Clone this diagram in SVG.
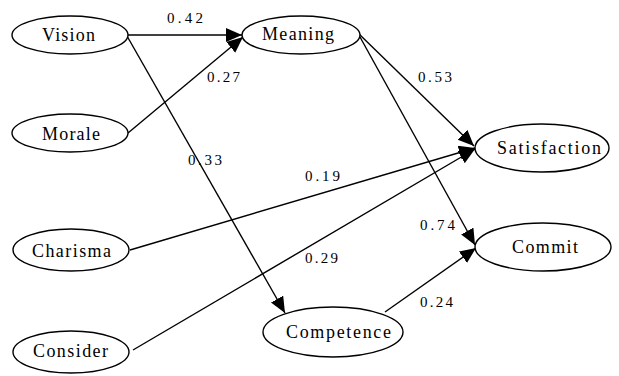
<svg xmlns="http://www.w3.org/2000/svg" width="619" height="376" viewBox="0 0 619 376">
<defs>
<style>
.n ellipse{fill:#fff;stroke:#000;stroke-width:1.4}
.n text{font-size:18px;fill:#000}
.e line{stroke:#000;stroke-width:1.4;fill:none}
.l text{font-size:15px;fill:#000}
</style>
<marker id="ah" markerUnits="userSpaceOnUse" markerWidth="17" markerHeight="15" refX="16" refY="7" orient="auto">
<path d="M0,0 L16,7 L0,14 z" fill="#000"/>
</marker>
</defs>
<rect width="619" height="376" fill="#fff"/>
<g id="connectors" class="e">
<line x1="128" y1="35" x2="242" y2="35" marker-end="url(#ah)"/>
<line x1="128" y1="133" x2="243" y2="37" marker-end="url(#ah)"/>
<line x1="127" y1="36" x2="285" y2="313" marker-end="url(#ah)"/>
<line x1="130" y1="250" x2="475" y2="148" marker-end="url(#ah)"/>
<line x1="133" y1="350" x2="475" y2="149" marker-end="url(#ah)"/>
<line x1="358" y1="33" x2="474" y2="146" marker-end="url(#ah)"/>
<line x1="360" y1="37" x2="475" y2="245" marker-end="url(#ah)"/>
<line x1="385" y1="312" x2="476" y2="248" marker-end="url(#ah)"/>
</g>
<g font-family="'Liberation Serif','Times New Roman','DejaVu Serif',serif">
<g id="vision" class="n"><ellipse cx="70" cy="35" rx="58" ry="19"/><text x="42" y="41" textLength="53" lengthAdjust="spacing">Vision</text></g>
<g id="morale" class="n"><ellipse cx="70" cy="133" rx="58" ry="19"/><text x="42" y="140" textLength="58" lengthAdjust="spacing">Morale</text></g>
<g id="charisma" class="n"><ellipse cx="71" cy="250" rx="58" ry="21"/><text x="32" y="257" textLength="79" lengthAdjust="spacing">Charisma</text></g>
<g id="consider" class="n"><ellipse cx="71" cy="352" rx="58" ry="21"/><text x="33" y="357" textLength="75" lengthAdjust="spacing">Consider</text></g>
<g id="meaning" class="n"><ellipse cx="301" cy="35" rx="59" ry="19"/><text x="262" y="40" textLength="72" lengthAdjust="spacing">Meaning</text></g>
<g id="satisfaction" class="n"><ellipse cx="542" cy="148" rx="67" ry="24"/><text x="497" y="154" textLength="104" lengthAdjust="spacing">Satisfaction</text></g>
<g id="commit" class="n"><ellipse cx="543" cy="247" rx="68" ry="24"/><text x="512" y="253" textLength="66" lengthAdjust="spacing">Commit</text></g>
<g id="competence" class="n"><ellipse cx="333" cy="332" rx="70" ry="25"/><text x="286" y="338" textLength="105" lengthAdjust="spacing">Competence</text></g>
<g id="labels" class="l">
<text x="167" y="23" textLength="36" lengthAdjust="spacing">0.42</text>
<text x="207" y="82" textLength="33" lengthAdjust="spacing">0.27</text>
<text x="188" y="165" textLength="34" lengthAdjust="spacing">0.33</text>
<text x="418" y="82" textLength="34" lengthAdjust="spacing">0.53</text>
<text x="305" y="181" textLength="35" lengthAdjust="spacing">0.19</text>
<text x="420" y="230" textLength="35" lengthAdjust="spacing">0.74</text>
<text x="305" y="263" textLength="33" lengthAdjust="spacing">0.29</text>
<text x="420" y="307" textLength="33" lengthAdjust="spacing">0.24</text>
</g>
</g>
</svg>
